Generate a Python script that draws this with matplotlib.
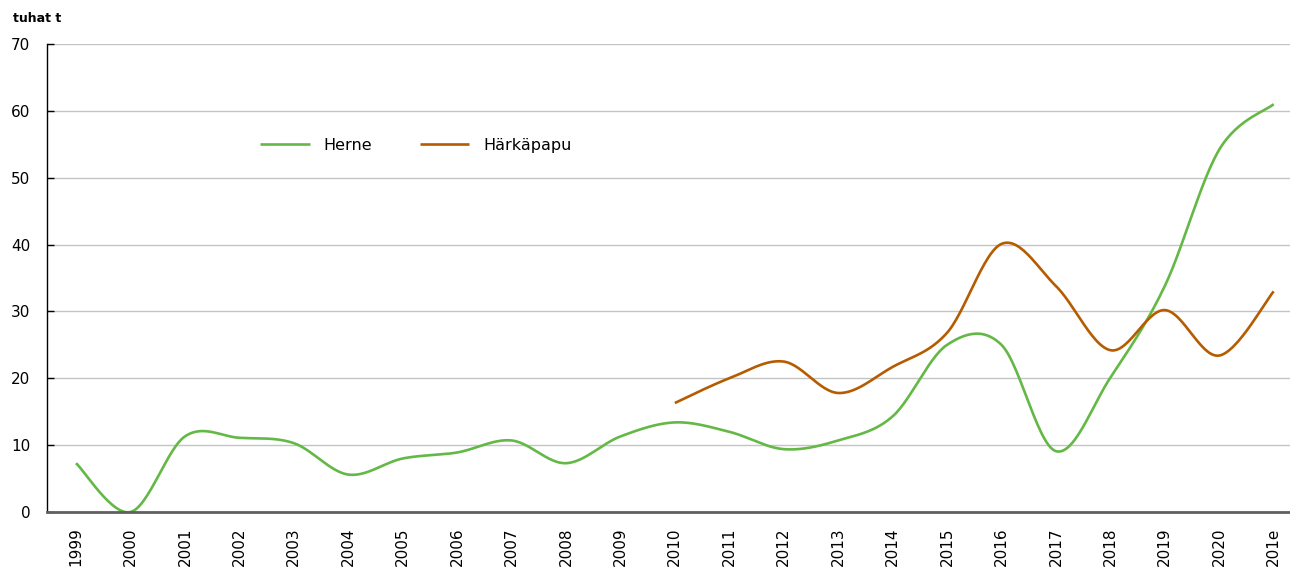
import numpy as np
import matplotlib
matplotlib.use("Agg")
import matplotlib.pyplot as plt

vuodet = [str(v) for v in range(1999, 2021)] + ['201e']
herne = [7.3, 0.0, 11.3, 11.1, 10.3, 5.6, 8.0, 8.9, 10.7, 7.3, 11.3, 13.4,
         12.0, 9.4, 10.7, 14.3, 25.0, 25.0, 9.1, 20.1, 33.8, 54.2, 61.0]
harkapapu = [None] * 11 + [16.3, 20.0, 22.5, 17.8, 21.7, 26.8, 40.1, 33.8,
                           24.2, 30.2, 23.4, 33.0]


def smooth(xs, ys, n=30):
    # excel-tyylinen pehmennys (catmull-rom bezier)
    px, py = [], []
    m = len(xs)
    for i in range(m - 1):
        x0, y0 = xs[max(i - 1, 0)], ys[max(i - 1, 0)]
        x1, y1 = xs[i], ys[i]
        x2, y2 = xs[i + 1], ys[i + 1]
        x3, y3 = xs[min(i + 2, m - 1)], ys[min(i + 2, m - 1)]
        c1x, c1y = x1 + (x2 - x0) / 6, y1 + (y2 - y0) / 6
        c2x, c2y = x2 - (x3 - x1) / 6, y2 - (y3 - y1) / 6
        t = np.linspace(0, 1, n)
        a, b, c, d = (1 - t) ** 3, 3 * (1 - t) ** 2 * t, 3 * (1 - t) * t ** 2, t ** 3
        px.extend(a * x1 + b * c1x + c * c2x + d * x2)
        py.extend(a * y1 + b * c1y + c * c2y + d * y2)
    return px, py


fig = plt.figure(figsize=(12.9, 5.71), dpi=100)
ax = fig.add_axes([47 / 1290, 1 - 512 / 571, 1 - 47 / 1290, 468 / 571])

x = np.arange(len(vuodet))
hx, hy = smooth(list(x), herne)
ax.plot(hx, hy, color='#64b846', lw=1.9, label='Herne', solid_capstyle='butt')

kx = [i for i, v in zip(x, harkapapu) if v is not None]
ky = [v for v in harkapapu if v is not None]
sx, sy = smooth(kx, ky)
ax.plot(sx, sy, color='#b55c00', lw=1.9, label='Härkäpapu', solid_capstyle='butt')

ax.set_ylim(0, 70)
ax.set_xlim(-0.533, 22.30)
ax.set_yticks(range(0, 71, 10))
ax.set_xticks(x)
ax.set_xticklabels(vuodet, rotation=90, fontsize=11)
ax.tick_params(axis='x', length=0, pad=11)
ax.tick_params(axis='y', direction='in', length=5, width=1, color='black',
               labelsize=11, pad=12)
ax.grid(axis='y', color='#c4c4c4', lw=1)
ax.set_axisbelow(True)
for s in ['top', 'right']:
    ax.spines[s].set_visible(False)
ax.spines['left'].set_color('black')
ax.spines['left'].set_linewidth(1)
ax.spines['bottom'].set_color('#606060')
ax.spines['bottom'].set_linewidth(2)
ax.spines['bottom'].set_zorder(3)

ax.legend(loc='center left', bbox_to_anchor=(0.16, 0.784), ncol=2, frameon=False,
          fontsize=11.5, handlelength=3.1, columnspacing=3.0, handletextpad=0.85)

fig.text(13 / 1290, 1 - 18 / 571, 'tuhat t', fontsize=9, fontweight='bold',
         va='center', ha='left')

fig.savefig('out.png', dpi=100)
